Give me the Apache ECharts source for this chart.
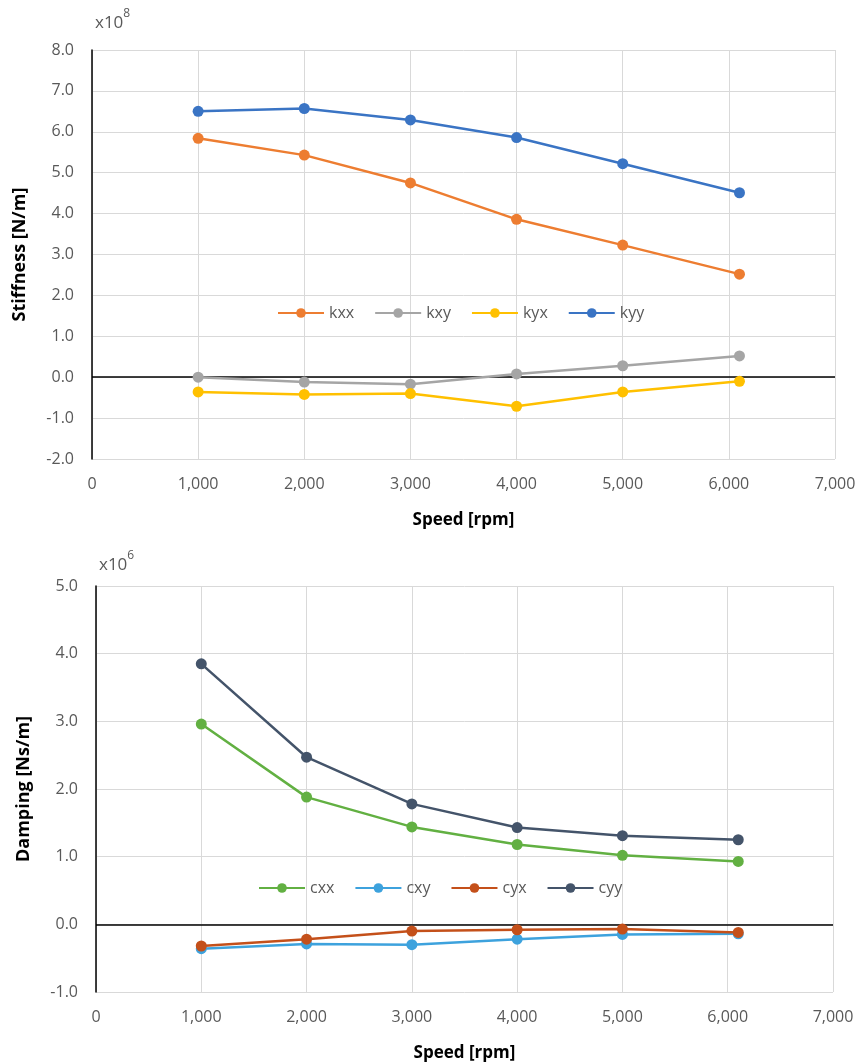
<!DOCTYPE html>
<html>
<head>
<meta charset="utf-8">
<script src="https://cdn.jsdelivr.net/npm/echarts@6/dist/echarts.min.js"></script>
<style>
html,body{margin:0;padding:0;background:#fff;}
#chart{width:861px;height:1064px;}
</style>
</head>
<body>
<div id="chart"></div>
<script>
// ---- data ----
var speeds = [1000, 2000, 3000, 4000, 5000, 6100];
var stiffNames = ['kxx', 'kxy', 'kyx', 'kyy'];
var kxx = [5.84, 5.43, 4.75, 3.86, 3.23, 2.52];
var kxy = [0.00, -0.12, -0.17, 0.08, 0.28, 0.52];
var kyx = [-0.36, -0.42, -0.40, -0.71, -0.36, -0.10];
var kyy = [6.50, 6.57, 6.29, 5.86, 5.22, 4.51];
var dampNames = ['cxx', 'cxy', 'cyx', 'cyy'];
var cxx = [2.96, 1.88, 1.44, 1.18, 1.02, 0.93];
var cxy = [-0.36, -0.29, -0.30, -0.22, -0.15, -0.14];
var cyx = [-0.32, -0.22, -0.10, -0.08, -0.07, -0.12];
var cyy = [3.85, 2.47, 1.78, 1.43, 1.31, 1.25];

var FONT = '"Open Sans", sans-serif';
var LBL = '#595959';
function fmtX(v){ return String(v).replace(/\B(?=(\d{3})+(?!\d))/g, ','); }
function fmtY(v){ return v.toFixed(1); }
function pairs(ys){ return speeds.map(function(x, i){ return [x, ys[i]]; }); }

function xAxisCfg(gi){
  return {
    type: 'value', gridIndex: gi, min: 0, max: 7000, interval: 1000,
    name: 'Speed [rpm]', nameLocation: 'middle', nameGap: 53,
    nameTextStyle: {fontFamily: FONT, fontSize: 17, fontWeight: 'bold', color: '#000'},
    axisLine: {show: false}, axisTick: {show: false},
    axisLabel: {formatter: fmtX, fontFamily: FONT, fontSize: 16, color: LBL, margin: 17},
    splitLine: {show: true, lineStyle: {color: '#D9D9D9', width: 1}}
  };
}
function yAxisCfg(gi, name, min, max){
  return {
    type: 'value', gridIndex: gi, min: min, max: max, interval: 1,
    name: name, nameLocation: 'middle', nameGap: 63,
    nameTextStyle: {fontFamily: FONT, fontSize: 18, fontWeight: 'bold', color: '#000'},
    axisLine: {show: true, onZero: false, lineStyle: {color: '#000', width: 1.5}},
    axisTick: {show: false},
    axisLabel: {formatter: fmtY, fontFamily: FONT, fontSize: 16, color: LBL, margin: 18},
    splitLine: {show: true, lineStyle: {color: '#D9D9D9', width: 1}}
  };
}
function seriesCfg(name, data, color, gi, zero){
  var s = {
    name: name, type: 'line', xAxisIndex: gi, yAxisIndex: gi,
    data: pairs(data), symbol: 'circle', symbolSize: 11,
    lineStyle: {color: color, width: 2.5}, itemStyle: {color: color},
    emphasis: {disabled: true}
  };
  if (zero) {
    s.markLine = {
      silent: true, symbol: ['none', 'none'], label: {show: false},
      lineStyle: {color: '#000', width: 1.5, type: 'solid'},
      data: [{yAxis: 0}], z: 1
    };
  }
  return s;
}
function expTitle(exp, left, top){
  return {
    text: '{a|x10}{b|' + exp + '}', left: left, top: top,
    textStyle: {fontWeight: 'normal', rich: {
      a: {fontFamily: FONT, fontSize: 17, fontWeight: 'normal', color: LBL, padding: [7,0,0,0]},
      b: {fontFamily: FONT, fontSize: 12, fontWeight: 'normal', color: LBL, verticalAlign: 'top'}
    }}
  };
}

var chart = echarts.init(document.getElementById('chart'));
chart.setOption({
  backgroundColor: '#fff',
  animation: false,
  title: [expTitle('8', 90, 3), expTitle('6', 94, 545)],
  legend: [
    {data: stiffNames, left: 277, top: 305, padding: 0, itemWidth: 46, itemHeight: 12, itemGap: 20,
     textStyle: {fontFamily: FONT, fontSize: 16, color: LBL}},
    {data: dampNames, left: 258, top: 880, padding: 0, itemWidth: 46, itemHeight: 12, itemGap: 20,
     textStyle: {fontFamily: FONT, fontSize: 16, color: LBL}}
  ],
  grid: [
    {left: 92, right: 26, top: 50, height: 409},
    {left: 96, right: 28, top: 586, height: 406}
  ],
  xAxis: [xAxisCfg(0), xAxisCfg(1)],
  yAxis: [yAxisCfg(0, 'Stiffness [N/m]', -2, 8), yAxisCfg(1, 'Damping [Ns/m]', -1, 5)],
  series: [
    seriesCfg('kxx', kxx, '#ED7D31', 0, true),
    seriesCfg('kxy', kxy, '#A5A5A5', 0, false),
    seriesCfg('kyx', kyx, '#FFC000', 0, false),
    seriesCfg('kyy', kyy, '#3A74C4', 0, false),
    seriesCfg('cxx', cxx, '#62B042', 1, true),
    seriesCfg('cxy', cxy, '#3DA2DD', 1, false),
    seriesCfg('cyx', cyx, '#C4501A', 1, false),
    seriesCfg('cyy', cyy, '#44546A', 1, false)
  ]
});
</script>
</body>
</html>
